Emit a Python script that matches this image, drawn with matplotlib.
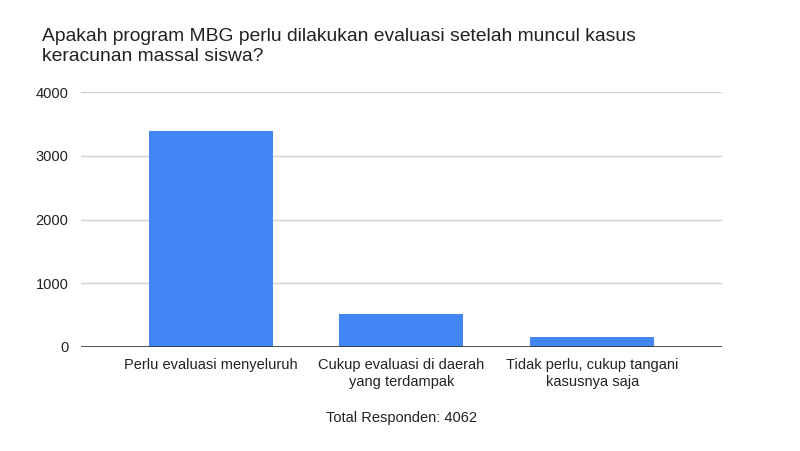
import numpy as np
import matplotlib.pyplot as plt

plt.rcParams['font.family'] = ['Liberation Sans', 'DejaVu Sans']

categories = ['Perlu evaluasi menyeluruh',
              'Cukup evaluasi di daerah\nyang terdampak',
              'Tidak perlu, cukup tangani\nkasusnya saja']
values = [3387, 518, 157]
yticks = [0, 1000, 2000, 3000, 4000]

fig = plt.figure(figsize=(8, 4.51), dpi=100)
ax = fig.add_axes([0.101, 0.2306, 0.8015, 0.5654])

x = np.arange(len(categories))
ax.bar(x, values, width=0.65, color='#4285F4', zorder=2)

ax.set_xlim(-0.68, 2.68)
ax.set_ylim(0, 4000)
ax.set_yticks(yticks)
ax.set_yticklabels([str(t) for t in yticks], fontsize=10.5, color='#222222')
ax.set_xticks(x)
ax.set_xticklabels(categories, fontsize=10.5, color='#222222', linespacing=1.25)
ax.tick_params(axis='both', length=0)
ax.tick_params(axis='y', pad=9)
ax.tick_params(axis='x', pad=8)

ax.grid(axis='y', color='#d0d0d0', linewidth=1, zorder=0)
ax.axhline(0, color='#333333', linewidth=1.2, zorder=3)
for s in ax.spines.values():
    s.set_visible(False)

ax.set_xlabel('Total Responden: 4062', fontsize=10.5, color='#222222', labelpad=16)

fig.text(0.0525, 0.938, 'Apakah program MBG perlu dilakukan evaluasi setelah muncul kasus\nkeracunan massal siswa?',
         fontsize=13.85, color='#222222', va='top', ha='left', linespacing=1.2)

fig.savefig('out.png', dpi=100, facecolor='white')
